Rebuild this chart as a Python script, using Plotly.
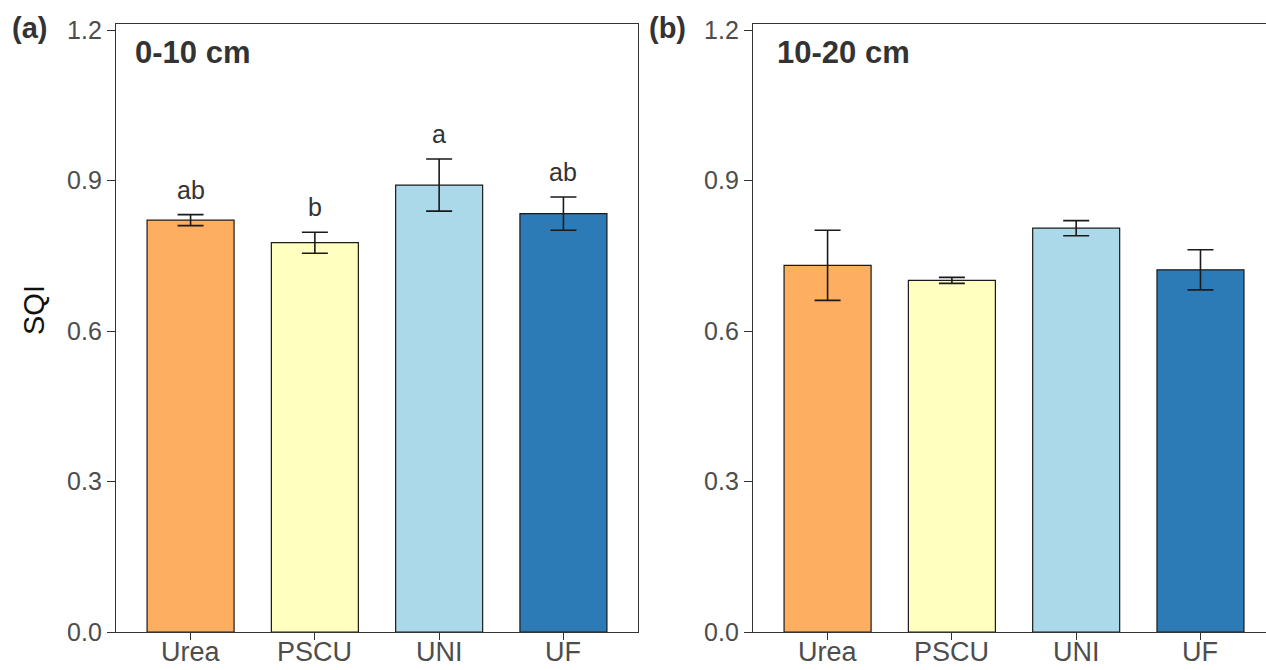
import plotly.graph_objects as go

# ---- data ----
categories = ["Urea", "PSCU", "UNI", "UF"]
sqi_0_10 = [0.821, 0.776, 0.891, 0.834]
se_0_10 = [0.011, 0.021, 0.052, 0.033]
letters_0_10 = ["ab", "b", "a", "ab"]
sqi_10_20 = [0.731, 0.701, 0.805, 0.722]
se_10_20 = [0.070, 0.006, 0.015, 0.040]
bar_colors = ["#FDAE61", "#FFFFBF", "#ABD9E9", "#2C7BB6"]
y_ticks = [0.0, 0.3, 0.6, 0.9, 1.2]
y_tick_labels = ["0.0", "0.3", "0.6", "0.9", "1.2"]
panel_titles = ["0-10 cm", "10-20 cm"]
panel_tags = ["(a)", "(b)"]

W, H = 1266, 670
FONT = "Liberation Sans, Arial, sans-serif"
TXT = "#4D4D4D"
DARK = "#333333"

def px_x(p):
    return p / W

def px_y(p):
    return (H - p) / H

fig = go.Figure()

for i, (vals, errs) in enumerate([(sqi_0_10, se_0_10), (sqi_10_20, se_10_20)]):
    xa = "x" if i == 0 else "x2"
    ya = "y" if i == 0 else "y2"
    fig.add_trace(go.Bar(
        x=categories, y=vals, xaxis=xa, yaxis=ya, width=0.7,
        marker=dict(color=bar_colors, line=dict(color="#1a1a1a", width=1.2)),
        error_y=dict(type="data", array=errs, visible=True, color="#1a1a1a",
                     thickness=1.6, width=13),
        showlegend=False, hoverinfo="x+y",
    ))

ydom = [px_y(632), px_y(24)]
axis_common = dict(
    showgrid=False, zeroline=False, showline=True, linecolor=DARK, linewidth=1.3,
    ticks="outside", ticklen=8, tickwidth=1.2, tickcolor=DARK, automargin=False,
)
yaxis_common = dict(axis_common, range=[0, 1.212], tickvals=y_ticks, ticktext=y_tick_labels,
                    tickfont=dict(family=FONT, size=25, color=TXT))

fig.update_layout(
    width=W, height=H, autosize=False,
    margin=dict(l=0, r=0, t=0, b=0),
    paper_bgcolor="white", plot_bgcolor="white",
    bargap=0.3,
    xaxis=dict(axis_common, domain=[px_x(116), px_x(638)], range=[-0.6, 3.6], mirror=True,
               type="category", showticklabels=False, anchor="y", ticklen=7),
    yaxis=dict(yaxis_common, domain=ydom, mirror=True, anchor="x"),
    xaxis2=dict(axis_common, domain=[px_x(753), 1.0], range=[-0.6, -0.6 + (W - 753) / 124.3],
                mirror=True, type="category", showticklabels=False, anchor="y2", ticklen=7),
    yaxis2=dict(yaxis_common, domain=ydom, mirror=False, anchor="x2"),
)

annotations = []
# x category labels (placed as text just under each axis)
for xr in ["x", "x2"]:
    for c in categories:
        annotations.append(dict(x=c, y=px_y(652), xref=xr, yref="paper", text=c, showarrow=False,
                                xanchor="center", yanchor="middle",
                                font=dict(family=FONT, size=27, color=TXT)))
# significance letters (panel a)
for c, v, e, l in zip(categories, sqi_0_10, se_0_10, letters_0_10):
    annotations.append(dict(x=c, y=v + e, xref="x", yref="y", text=l, showarrow=False,
                            yanchor="bottom", yshift=9,
                            font=dict(family=FONT, size=25, color=DARK)))
# panel titles
for xpx, t in zip([133, 775], panel_titles):
    annotations.append(dict(x=px_x(xpx), y=px_y(52), xref="paper", yref="paper", text=f"<b>{t}</b>",
                            showarrow=False, xanchor="left", yanchor="middle",
                            font=dict(family=FONT, size=31, color=DARK)))
# panel tags
for xpx, t in zip([10, 647], panel_tags):
    annotations.append(dict(x=px_x(xpx), y=px_y(28), xref="paper", yref="paper", text=f"<b>{t}</b>",
                            showarrow=False, xanchor="left", yanchor="middle",
                            font=dict(family=FONT, size=29, color=DARK)))
# y axis title
annotations.append(dict(x=px_x(34), y=px_y(310), xref="paper", yref="paper", text="SQI",
                        textangle=-90, showarrow=False, xanchor="center", yanchor="middle",
                        font=dict(family=FONT, size=29, color="#111111")))
fig.update_layout(annotations=annotations)

fig.write_html("out.html")
